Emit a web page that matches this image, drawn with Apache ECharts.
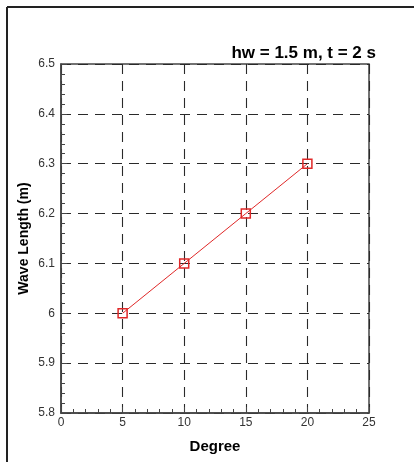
<!DOCTYPE html>
<html>
<head>
<meta charset="utf-8">
<script src="https://cdn.jsdelivr.net/npm/echarts@6/dist/echarts.min.js"></script>
<style>
html,body{margin:0;padding:0;background:#fff;}
#c{width:414px;height:462px;}
</style>
</head>
<body>
<div id="c"></div>
<script>
// Data
var degrees = [5, 10, 15, 20];
var waveLength = [6.0, 6.1, 6.2, 6.3];
var titleText = 'hw = 1.5 m, t = 2 s';
var xName = 'Degree';
var yName = 'Wave Length (m)';

var chart = echarts.init(document.getElementById('c'), null, {renderer: 'canvas'});
var axisCol = '#444';
var fontFam = 'Liberation Sans, Arial, sans-serif';
chart.setOption({
  animation: false,
  backgroundColor: '#fff',
  title: {
    text: titleText,
    right: 33, top: 40,
    textStyle: {fontFamily: fontFam, fontSize: 17, fontWeight: 'bold', color: '#000'}
  },
  graphic: [
    {type: 'line', shape: {x1: 7, y1: 7, x2: 7, y2: 462}, style: {stroke: '#222', lineWidth: 2}},
    {type: 'line', shape: {x1: 7, y1: 7, x2: 414, y2: 7}, style: {stroke: '#222', lineWidth: 2}}
  ],
  grid: {left: 61, right: 45, top: 64, bottom: 49, show: true, borderColor: axisCol, borderWidth: 1.5, backgroundColor: 'transparent'},
  xAxis: {
    type: 'value', min: 0, max: 25, interval: 5,
    name: xName, nameLocation: 'middle', nameGap: 26, nameMoveOverlap: false,
    nameTextStyle: {fontFamily: fontFam, fontSize: 15, fontWeight: 'bold', color: '#000'},
    axisLine: {show: true, lineStyle: {color: axisCol, width: 1.5}},
    axisTick: {show: true, inside: true, length: 6, lineStyle: {color: axisCol, width: 1}},
    minorTick: {show: true, splitNumber: 5, length: 4, lineStyle: {color: axisCol, width: 1}},
    axisLabel: {margin: 4, fontFamily: fontFam, fontSize: 12, color: '#333'},
    splitLine: {show: true, lineStyle: {color: '#2a2a2a', width: 1.1, type: [10, 7]}}
  },
  yAxis: {
    type: 'value', min: 5.8, max: 6.5, interval: 0.1,
    name: yName, nameLocation: 'middle', nameGap: 30, nameMoveOverlap: false,
    nameTextStyle: {fontFamily: fontFam, fontSize: 14, fontWeight: 'bold', color: '#000'},
    axisLine: {show: true, lineStyle: {color: axisCol, width: 1.5}},
    axisTick: {show: true, inside: true, length: 6, lineStyle: {color: axisCol, width: 1}},
    minorTick: {show: true, splitNumber: 5, length: 4, lineStyle: {color: axisCol, width: 1}},
    axisLabel: {margin: 6, fontFamily: fontFam, fontSize: 12, color: '#333',
      formatter: function (v) { return String(parseFloat(v.toFixed(1))); }},
    splitLine: {show: true, lineStyle: {color: '#2a2a2a', width: 1.1, type: [10, 7]}}
  },
  series: [{
    type: 'line',
    data: degrees.map(function (d, i) { return [d, waveLength[i]]; }),
    symbol: 'rect', symbolSize: 9,
    lineStyle: {color: '#e02828', width: 1},
    itemStyle: {color: 'transparent', borderColor: '#e02828', borderWidth: 1.5}
  }]
});
</script>
</body>
</html>
